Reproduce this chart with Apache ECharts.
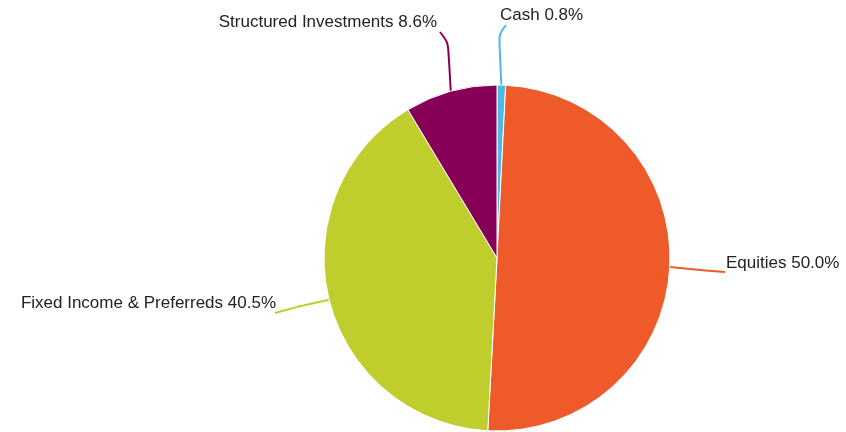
<!DOCTYPE html>
<html>
<head>
<meta charset="UTF-8">
<script src="https://cdn.jsdelivr.net/npm/echarts@6/dist/echarts.min.js"></script>
<style>
  html, body { margin: 0; padding: 0; background: #fff; }
  #container { width: 846px; height: 432px; }
</style>
</head>
<body>
<div id="container"></div>
<script>
// slices, clockwise from 12 o'clock
var names = ['Cash', 'Equities', 'Fixed Income & Preferreds', 'Structured Investments'];
var values = [0.8, 50.0, 40.5, 8.6];
var colors = ['#4cb9e7', '#ee5a2a', '#bfcd2d', '#870057'];
// where each label sits (text anchor point) and how its leader bends
var labelPos = [
  {x: 500, y: 15, align: 'left', bend: [[499, 34], [506, 25]]},
  {x: 726, y: 263, align: 'left', bend: [[700, 270], [725, 272]]},
  {x: 276, y: 303, align: 'right', bend: [[300, 306], [275, 313]]},
  {x: 437, y: 22, align: 'right', bend: [[448, 42], [440, 32]]}
];

var dom = document.getElementById('container');
var myChart = echarts.init(dom);

var data = [];
for (var i = 0; i < names.length; i++) {
  data.push({name: names[i], value: values[i], itemStyle: {color: colors[i]}});
}

var option = {
  animation: false,
  series: [{
    type: 'pie',
    center: [497, 258],
    radius: 173,
    startAngle: 90,
    clockwise: true,
    data: data,
    itemStyle: {borderColor: '#fff', borderWidth: 1},
    label: {
      formatter: function (p) { return p.name + ' ' + p.value.toFixed(1) + '%'; },
      fontFamily: '"Liberation Sans", Arial, sans-serif',
      fontSize: 17,
      color: '#222'
    },
    labelLine: {show: true, smooth: 0.3, length: 20, length2: 20, lineStyle: {width: 2}},
    labelLayout: function (p) {
      var lp = labelPos[p.dataIndex];
      var start = p.labelLinePoints ? p.labelLinePoints[0] : lp.bend[0];
      return {
        x: lp.x, y: lp.y, align: lp.align, verticalAlign: 'middle',
        labelLinePoints: [start, lp.bend[0], lp.bend[1]]
      };
    }
  }]
};

myChart.setOption(option, true);
</script>
</body>
</html>
